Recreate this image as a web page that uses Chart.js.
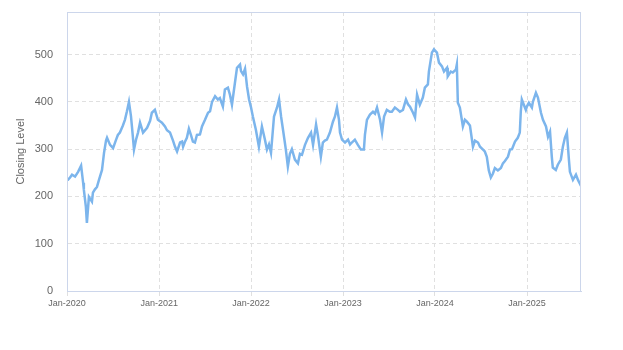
<!DOCTYPE html>
<html>
<head>
<meta charset="utf-8">
<script src="https://cdn.jsdelivr.net/npm/chart.js@4/dist/chart.umd.min.js"></script>
<style>
  html, body { margin: 0; padding: 0; background: #fff; }
  #wrap { width: 623px; height: 350px; }
</style>
</head>
<body>
<div id="wrap"><canvas id="closeChart"></canvas></div>
<script>
// closing level
const dates = [
  '2020-01-01','2020-01-05','2020-01-13','2020-01-21','2020-02-02','2020-02-14','2020-02-26','2020-03-05','2020-03-08','2020-03-16',
  '2020-03-20','2020-03-28','2020-04-09','2020-04-13','2020-04-21','2020-04-29','2020-05-07','2020-05-19','2020-05-27','2020-06-04',
  '2020-06-08','2020-06-20','2020-07-02','2020-07-14','2020-07-21','2020-07-29','2020-08-10','2020-08-18','2020-08-26','2020-09-03',
  '2020-09-11','2020-09-15','2020-09-23','2020-10-01','2020-10-09','2020-10-17','2020-10-29','2020-11-14','2020-11-26','2020-12-03',
  '2020-12-15','2020-12-27','2021-01-12','2021-01-24','2021-02-01','2021-02-13','2021-02-25','2021-03-05','2021-03-13','2021-03-25',
  '2021-04-02','2021-04-06','2021-04-13','2021-04-21','2021-04-29','2021-05-07','2021-05-15','2021-05-23','2021-05-31','2021-06-12',
  '2021-06-20','2021-07-02','2021-07-14','2021-07-22','2021-07-30','2021-08-11','2021-08-22','2021-08-30','2021-09-11','2021-09-19',
  '2021-10-01','2021-10-09','2021-10-17','2021-10-29','2021-11-06','2021-11-18','2021-11-22','2021-11-30','2021-12-08','2021-12-16',
  '2021-12-24','2021-12-31','2022-01-08','2022-01-20','2022-02-01','2022-02-13','2022-02-25','2022-03-05','2022-03-13','2022-03-21',
  '2022-04-02','2022-04-14','2022-04-22','2022-04-30','2022-05-08','2022-05-15','2022-05-19','2022-05-27','2022-06-04','2022-06-12',
  '2022-06-24','2022-07-06','2022-07-14','2022-07-22','2022-08-03','2022-08-15','2022-08-27','2022-09-04','2022-09-16','2022-09-23',
  '2022-10-05','2022-10-13','2022-10-21','2022-10-29','2022-11-10','2022-11-22','2022-11-30','2022-12-08','2022-12-16','2022-12-20',
  '2022-12-28','2023-01-09','2023-01-21','2023-01-29','2023-02-05','2023-02-17','2023-03-01','2023-03-13','2023-03-25','2023-03-29',
  '2023-04-06','2023-04-18','2023-04-30','2023-05-08','2023-05-16','2023-05-28','2023-06-05','2023-06-13','2023-06-24','2023-07-06',
  '2023-07-14','2023-07-26','2023-08-07','2023-08-15','2023-08-27','2023-09-08','2023-09-16','2023-09-24','2023-10-06','2023-10-14',
  '2023-10-22','2023-11-02','2023-11-14','2023-11-22','2023-12-04','2023-12-08','2023-12-20','2023-12-28','2024-01-09','2024-01-17',
  '2024-01-29','2024-02-06','2024-02-18','2024-02-21','2024-03-04','2024-03-12','2024-03-24','2024-03-28','2024-04-01','2024-04-09',
  '2024-04-21','2024-04-29','2024-05-07','2024-05-19','2024-05-31','2024-06-08','2024-06-20','2024-06-28','2024-07-10','2024-07-17',
  '2024-07-25','2024-08-02','2024-08-10','2024-08-18','2024-08-26','2024-09-07','2024-09-19','2024-09-27','2024-10-05','2024-10-17',
  '2024-10-25','2024-11-02','2024-11-14','2024-11-25','2024-12-03','2024-12-07','2024-12-11','2024-12-19','2024-12-27','2024-12-31',
  '2025-01-08','2025-01-20','2025-01-24','2025-02-05','2025-02-13','2025-02-25','2025-03-05','2025-03-17','2025-03-25','2025-04-02',
  '2025-04-09','2025-04-13','2025-04-25','2025-05-03','2025-05-15','2025-05-23','2025-05-31','2025-06-08','2025-06-16','2025-06-20',
  '2025-07-02','2025-07-14','2025-07-22','2025-08-03'
];
const closes = [
  235,235,240,246,242,252,265,229,214,178,
  144,199,189,208,215,220,235,256,292,318,
  324,309,302,320,330,335,350,362,380,400,
  370,347,299,320,335,356,335,345,360,377,
  383,362,356,348,340,335,318,305,295,314,
  316,305,315,324,343,330,316,314,330,331,
  348,362,377,380,400,412,405,408,390,426,
  430,415,394,441,472,479,465,458,470,432,
  405,390,369,341,305,348,320,299,310,292,
  369,388,405,369,340,314,299,263,290,300,
  278,270,290,288,309,324,335,309,352,330,
  284,314,318,320,335,358,369,388,362,335,
  320,314,320,310,314,320,309,299,299,330,
  362,373,379,375,388,362,335,369,383,379,
  379,388,383,379,383,405,395,390,377,367,
  415,394,409,430,437,464,504,511,504,483,
  475,464,472,454,464,462,468,479,398,388,
  348,362,358,350,305,318,314,305,299,295,
  284,255,240,248,260,255,260,270,275,284,
  299,300,316,324,335,380,405,394,383,390,
  398,388,400,419,409,377,362,348,326,337,
  284,261,256,267,278,305,324,335,278,252,
  235,246,235,222
];
const yearTicks = ['2020-01-01','2021-01-01','2022-01-01','2023-01-01','2024-01-01','2025-01-01'];
const levelTicks = [0, 100, 200, 300, 400, 500];
const months = ['Jan','Feb','Mar','Apr','May','Jun','Jul','Aug','Sep','Oct','Nov','Dec'];

const toMs = s => Date.parse(s + 'T00:00:00Z');
const points = dates.map((d, i) => ({ x: toMs(d), y: closes[i] }));

// frame round the plot area
const plotBorder = {
    id: 'plotBorder',
    afterDraw(chart) {
        const a = chart.chartArea;
        const ctx = chart.ctx;
        ctx.save();
        ctx.strokeStyle = '#ccd6eb';
        ctx.lineWidth = 1;
        ctx.strokeRect(a.left + 0.5, a.top + 0.5, a.right - a.left - 1, a.bottom - a.top);
        ctx.restore();
    }
};

new Chart(document.getElementById('closeChart'), {
    type: 'line',
    data: {
        datasets: [{
            label: 'Closing Level',
            data: points,
            borderColor: '#7cb5ec',
            borderWidth: 2.5,
            pointRadius: 0,
            tension: 0,
            fill: false
        }]
    },
    options: {
        responsive: true,
        maintainAspectRatio: false,
        animation: false,
        layout: { padding: { top: 12, right: 42, left: 0, bottom: 0 } },
        plugins: { legend: { display: false }, tooltip: { enabled: false } },
        scales: {
            x: {
                type: 'linear',
                min: toMs(dates[0]),
                max: toMs(dates[dates.length - 1]),
                afterBuildTicks(scale) {
                    scale.ticks = yearTicks.map(t => ({ value: toMs(t) }));
                },
                afterFit(scale) { scale.height = 59; },
                ticks: {
                    color: '#666',
                    font: { family: '"Liberation Sans", Arial, sans-serif', size: 9 },
                    padding: 2,
                    maxRotation: 0,
                    callback(v) {
                        const d = new Date(v);
                        return months[d.getUTCMonth()] + '-' + d.getUTCFullYear();
                    }
                },
                grid: { color: '#e0e0e0', tickColor: '#e0e0e0', tickLength: 5 },
                border: { color: '#ccd6eb', dash: [4, 3] }
            },
            y: {
                min: 0,
                max: 590,
                afterBuildTicks(scale) {
                    scale.ticks = levelTicks.map(v => ({ value: v }));
                },
                afterFit(scale) {
                    scale.width = 67;
                    scale.paddingTop = 0;
                    scale.paddingBottom = 0;
                },
                ticks: {
                    color: '#666',
                    padding: 14,
                    font: { family: '"Liberation Sans", Arial, sans-serif', size: 11 }
                },
                grid: { color: '#e0e0e0', drawTicks: false },
                border: { color: '#ccd6eb', dash: [4, 3] },
                title: {
                    display: true,
                    text: 'Closing Level',
                    color: '#666',
                    padding: { top: 14, bottom: 0 },
                    font: { family: '"Liberation Sans", Arial, sans-serif', size: 11 }
                }
            }
        }
    },
    plugins: [plotBorder]
});
</script>
</body>
</html>
